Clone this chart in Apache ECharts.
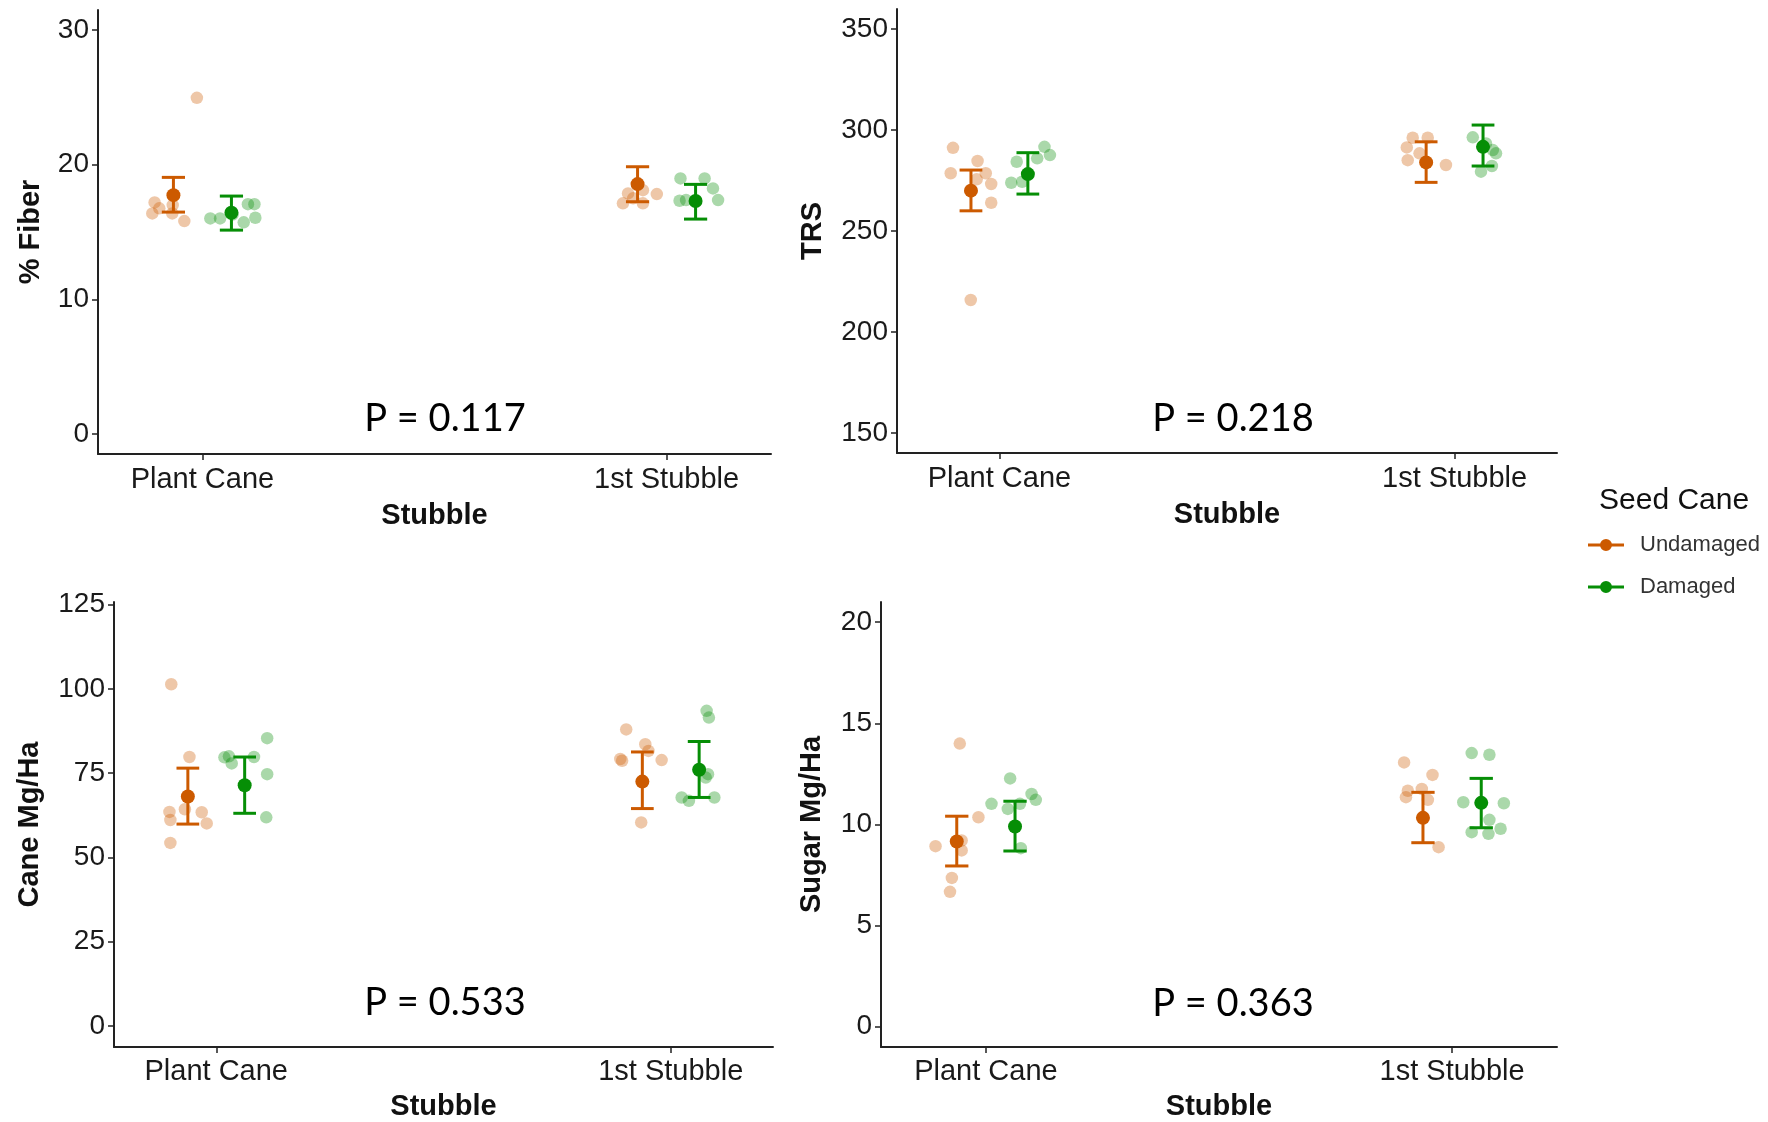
<!DOCTYPE html>
<html>
<head>
<meta charset="utf-8">
<script src="https://cdn.jsdelivr.net/npm/echarts@6/dist/echarts.min.js"></script>
<style>
  html, body { margin: 0; padding: 0; background: #ffffff; }
  #chart { width: 1768px; height: 1122px; }
</style>
</head>
<body>
<div id="chart"></div>
<script>
// ---- data -------------------------------------------------------------
const stages = ['Plant Cane', '1st Stubble'];
const groups = ['Undamaged', 'Damaged'];
const yTitles = ['% Fiber', 'TRS', 'Cane Mg/Ha', 'Sugar Mg/Ha'];
const pValues = ['0.117', '0.218', '0.533', '0.363'];
const yTicks = [
  [0, 10, 20, 30],
  [150, 200, 250, 300, 350],
  [0, 25, 50, 75, 100, 125],
  [0, 5, 10, 15, 20]
];

// % Fiber: individual plots [jittered stage position, value]
const fiberUndamagedPts = [[0.988, 24.97], [0.897, 17.2], [0.907, 16.76], [0.892, 16.38], [0.935, 16.38], [0.961, 15.81], [0.936, 17.0],
  [1.906, 17.13], [1.917, 17.87], [1.949, 17.13], [1.949, 18.11], [1.979, 17.82], [1.928, 17.5]];
const fiberDamagedPts = [[1.017, 16.01], [1.038, 16.01], [1.089, 15.72], [1.098, 17.07], [1.112, 17.07], [1.114, 16.06], [1.065, 16.3],
  [2.030, 18.98], [2.082, 18.98], [2.028, 17.32], [2.100, 18.24], [2.111, 17.37], [2.042, 17.37]];
const fiberUndamagedMean = [17.74, 18.56], fiberUndamagedLow = [16.48, 17.25], fiberUndamagedHigh = [19.06, 19.85];
const fiberDamagedMean = [16.43, 17.30], fiberDamagedLow = [15.14, 15.96], fiberDamagedHigh = [17.67, 18.54];

// TRS
const trsUndamagedPts = [[0.898, 291.2], [0.952, 284.7], [0.893, 278.6], [0.970, 278.6], [0.950, 275.6], [0.982, 273.3], [0.982, 264.0], [0.937, 215.8],
  [1.908, 296.2], [1.941, 296.2], [1.895, 291.4], [1.897, 285.1], [1.923, 288.5], [1.981, 282.7]];
const trsDamagedPts = [[1.099, 291.7], [1.111, 287.6], [1.083, 286.0], [1.038, 284.3], [1.026, 273.9], [1.050, 274.4],
  [2.040, 296.4], [2.069, 293.4], [2.084, 290.1], [2.091, 288.5], [2.058, 279.4], [2.082, 282.2]];
const trsUndamagedMean = [270.0, 284.0], trsUndamagedLow = [260.0, 274.1], trsUndamagedHigh = [280.2, 294.2];
const trsDamagedMean = [278.2, 291.7], trsDamagedLow = [268.3, 282.2], trsDamagedHigh = [288.8, 302.5];

// Cane Mg/Ha
const caneUndamagedPts = [[0.901, 101.4], [0.941, 79.8], [0.897, 63.5], [0.931, 64.3], [0.968, 63.4], [0.899, 61.1], [0.979, 60.1], [0.899, 54.3],
  [1.902, 88.0], [1.889, 79.2], [1.893, 78.7], [1.944, 83.6], [1.951, 81.6], [1.980, 78.9], [1.935, 60.4]];
const caneDamagedPts = [[1.112, 85.4], [1.018, 79.7], [1.028, 80.0], [1.034, 77.9], [1.083, 79.8], [1.112, 74.7], [1.110, 61.9],
  [2.079, 93.5], [2.084, 91.5], [2.082, 74.7], [2.077, 73.7], [2.024, 67.8], [2.040, 66.8], [2.096, 67.8]];
const caneUndamagedMean = [68.1, 72.5], caneUndamagedLow = [59.9, 64.5], caneUndamagedHigh = [76.5, 81.3];
const caneDamagedMean = [71.4, 76.0], caneDamagedLow = [63.1, 67.8], caneDamagedHigh = [79.8, 84.4];

// Sugar Mg/Ha
const sugarUndamagedPts = [[0.944, 14.0], [0.984, 10.36], [0.892, 8.93], [0.948, 9.21], [0.948, 8.72], [0.927, 7.36], [0.923, 6.67],
  [1.897, 13.07], [1.958, 12.45], [1.905, 11.67], [1.935, 11.76], [1.901, 11.35], [1.948, 11.22], [1.971, 8.88]];
const sugarDamagedPts = [[1.052, 12.28], [1.012, 11.02], [1.047, 10.77], [1.073, 11.02], [1.098, 11.51], [1.107, 11.22], [1.075, 8.83],
  [2.042, 13.53], [2.080, 13.45], [2.024, 11.10], [2.111, 11.05], [2.080, 10.23], [2.042, 9.62], [2.078, 9.54], [2.104, 9.79]];
const sugarUndamagedMean = [9.16, 10.33], sugarUndamagedLow = [7.95, 9.10], sugarUndamagedHigh = [10.41, 11.59];
const sugarDamagedMean = [9.90, 11.07], sugarDamagedLow = [8.69, 9.84], sugarDamagedHigh = [11.15, 12.28];

// ---- layout & style -----------------------------------------------------
const FONT = '"Liberation Sans", Arial, sans-serif';
const COLORS = { Undamaged: '#cc5a00', Damaged: '#068e06' };
const DODGE = 0.0625;     // horizontal offset of the two seed-cane groups
const CAP = 0.05;         // error-bar cap width, in stage units
const AXIS_COLOR = '#222222';

const panels = [
  { grid: { left: 98,  top: 10,  width: 673, height: 444 }, yMin: -1.5, yMax: 31.5, nameGapY: 53, nameGapX: 47, labelMargin: 11,
    pts: [fiberUndamagedPts, fiberDamagedPts],
    mean: [fiberUndamagedMean, fiberDamagedMean], low: [fiberUndamagedLow, fiberDamagedLow], high: [fiberUndamagedHigh, fiberDamagedHigh],
    pPos: [445, 419] },
  { grid: { left: 897, top: 9,   width: 660, height: 444 }, yMin: 140, yMax: 360, nameGapY: 70, nameGapX: 47, labelMargin: 11,
    pts: [trsUndamagedPts, trsDamagedPts],
    mean: [trsUndamagedMean, trsDamagedMean], low: [trsUndamagedLow, trsDamagedLow], high: [trsUndamagedHigh, trsDamagedHigh],
    pPos: [1233, 419] },
  { grid: { left: 114, top: 602, width: 659, height: 446 }, yMin: -6.25, yMax: 125.8, nameGapY: 70, nameGapX: 45, labelMargin: 10,
    pts: [caneUndamagedPts, caneDamagedPts],
    mean: [caneUndamagedMean, caneDamagedMean], low: [caneUndamagedLow, caneDamagedLow], high: [caneUndamagedHigh, caneDamagedHigh],
    pPos: [445, 1003] },
  { grid: { left: 881, top: 602, width: 676, height: 447 }, yMin: -1, yMax: 21, nameGapY: 55, nameGapX: 45, labelMargin: 10,
    pts: [sugarUndamagedPts, sugarDamagedPts],
    mean: [sugarUndamagedMean, sugarDamagedMean], low: [sugarUndamagedLow, sugarDamagedLow], high: [sugarUndamagedHigh, sugarDamagedHigh],
    pPos: [1233, 1004] }
];

const grids = [], xAxes = [], yAxes = [], series = [], graphics = [];

panels.forEach((p, i) => {
  grids.push(Object.assign({ containLabel: false }, p.grid));

  xAxes.push({
    gridIndex: i, type: 'value', min: 0.775, max: 2.225,
    name: 'Stubble', nameLocation: 'middle', nameGap: p.nameGapX,
    nameTextStyle: { fontFamily: FONT, fontSize: 29, fontWeight: 'bold', color: '#111' },
    axisLine: { onZero: false, lineStyle: { color: AXIS_COLOR, width: 2 } },
    axisTick: { show: true, length: 6, customValues: [1, 2], lineStyle: { color: AXIS_COLOR, width: 1.5 } },
    axisLabel: { customValues: [1, 2], margin: p.labelMargin, fontFamily: FONT, fontSize: 29, color: '#1a1a1a',
      formatter: v => stages[Math.round(v) - 1] },
    splitLine: { show: false }
  });

  yAxes.push({
    gridIndex: i, type: 'value', min: p.yMin, max: p.yMax,
    name: yTitles[i], nameLocation: 'middle', nameGap: p.nameGapY,
    nameTextStyle: { fontFamily: FONT, fontSize: 29, fontWeight: 'bold', color: '#111' },
    axisLine: { show: true, onZero: false, lineStyle: { color: AXIS_COLOR, width: 2 } },
    axisTick: { show: true, length: 6, customValues: yTicks[i], lineStyle: { color: AXIS_COLOR, width: 1.5 } },
    axisLabel: { customValues: yTicks[i], margin: 9, fontFamily: FONT, fontSize: 28, color: '#1a1a1a' },
    splitLine: { show: false }
  });

  groups.forEach((g, k) => {
    const color = COLORS[g];
    const side = k === 0 ? -DODGE : DODGE;

    // individual observations
    series.push({
      type: 'scatter', name: g, xAxisIndex: i, yAxisIndex: i, z: 2,
      data: p.pts[k], symbolSize: 12.5,
      itemStyle: { color: color, opacity: 0.34 },
      emphasis: { disabled: true }, silent: true
    });

    // mean +/- error bars
    series.push({
      type: 'custom', name: g, xAxisIndex: i, yAxisIndex: i, z: 3,
      data: stages.map((s, j) => [j + 1 + side, p.low[k][j], p.high[k][j]]),
      encode: { x: 0, y: [1, 2] },
      renderItem: (params, api) => {
        const x = api.value(0);
        const lo = api.coord([x, api.value(1)]);
        const hi = api.coord([x, api.value(2)]);
        const half = api.size([CAP, 0])[0] / 2;
        const st = { stroke: color, lineWidth: 3 };
        return {
          type: 'group',
          children: [
            { type: 'line', shape: { x1: lo[0], y1: lo[1], x2: hi[0], y2: hi[1] }, style: st },
            { type: 'line', shape: { x1: lo[0] - half, y1: lo[1], x2: lo[0] + half, y2: lo[1] }, style: st },
            { type: 'line', shape: { x1: hi[0] - half, y1: hi[1], x2: hi[0] + half, y2: hi[1] }, style: st }
          ]
        };
      },
      silent: true
    });

    series.push({
      type: 'scatter', name: g, xAxisIndex: i, yAxisIndex: i, z: 4,
      data: stages.map((s, j) => [j + 1 + side, p.mean[k][j]]),
      symbolSize: 14,
      itemStyle: { color: color, opacity: 1 },
      emphasis: { disabled: true }, silent: true
    });
  });

  graphics.push({
    type: 'text', x: p.pPos[0], y: p.pPos[1], silent: true,
    style: { text: 'P = ' + pValues[i], font: '38px Lato, "Open Sans", sans-serif', fill: '#000',
      align: 'center', verticalAlign: 'middle' }
  });
});

// legend key: a short line through a dot
const legendIcon = 'path://M0,4.6 L36,4.6 L36,7.4 L0,7.4 Z M12,6 A6,6 0 1,1 24,6 A6,6 0 1,1 12,6 Z';

const option = {
  animation: false,
  backgroundColor: '#ffffff',
  title: {
    text: 'Seed Cane', left: 1594, top: 481,
    textStyle: { fontFamily: FONT, fontSize: 30, fontWeight: 'normal', color: '#111' }
  },
  legend: {
    orient: 'vertical', left: 1583, top: 529, itemWidth: 36, itemHeight: 12, itemGap: 20,
    selectedMode: false,
    data: groups.map(g => ({ name: g, icon: legendIcon, itemStyle: { color: COLORS[g], opacity: 1 } })),
    textStyle: { fontFamily: FONT, fontSize: 22, color: '#333', padding: [0, 0, 0, 11] }
  },
  grid: grids,
  xAxis: xAxes,
  yAxis: yAxes,
  series: series,
  graphic: graphics
};

const chart = echarts.init(document.getElementById('chart'), null, { renderer: 'canvas' });
chart.setOption(option);
</script>
</body>
</html>
